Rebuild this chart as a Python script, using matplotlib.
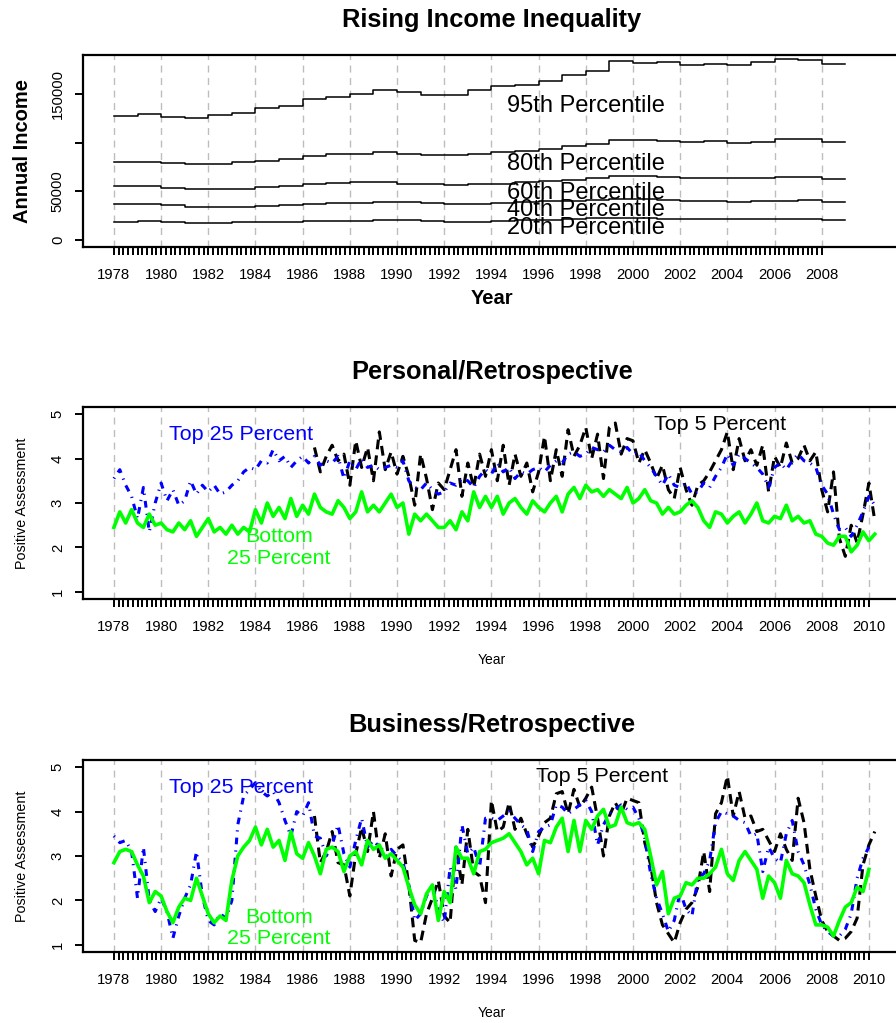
import matplotlib
matplotlib.use('Agg')
import matplotlib.pyplot as plt
import numpy as np

plt.rcParams['font.family'] = ['Liberation Sans', 'DejaVu Sans']

# ---- panel 1: household income percentiles (thousands of dollars) ----
income_years = list(range(1978, 2009))
p95 = [127.9, 130.0, 126.6, 125.6, 129.0, 131.0, 135.5, 137.9, 144.8, 147.2, 150.3,
       154.5, 152.5, 148.9, 149.3, 154.0, 158.6, 159.7, 163.4, 169.6, 174.0, 184.0,
       182.6, 183.7, 180.2, 181.0, 180.0, 183.4, 186.0, 184.9, 181.0]
p80 = [80.0, 80.7, 78.9, 78.3, 78.3, 80.0, 81.7, 83.8, 86.2, 88.0, 89.0, 90.3, 88.6,
       87.6, 87.2, 88.6, 90.3, 92.0, 94.1, 96.5, 99.3, 102.7, 102.7, 102.0, 101.3,
       102.0, 100.3, 101.3, 103.8, 104.2, 100.7]
p60 = [55.2, 55.8, 53.8, 52.7, 52.4, 52.4, 54.1, 55.8, 57.2, 58.2, 59.3, 59.6, 57.9,
       57.2, 56.9, 57.2, 57.9, 59.3, 60.7, 62.0, 64.1, 65.8, 65.8, 64.8, 64.1, 63.8,
       63.4, 64.1, 64.5, 65.2, 63.1]
p40 = [36.5, 36.5, 35.5, 34.4, 34.4, 34.4, 35.2, 35.8, 36.9, 37.6, 38.0, 39.0, 38.6,
       37.6, 36.5, 36.9, 38.0, 39.0, 39.6, 40.3, 41.4, 41.7, 41.7, 40.7, 40.0, 39.6,
       39.3, 39.6, 40.0, 40.7, 39.0]
p20 = [18.9, 19.3, 18.6, 17.9, 17.9, 18.3, 18.6, 18.9, 19.3, 19.6, 20.0, 20.7, 20.3,
       19.6, 18.9, 18.9, 19.6, 20.7, 21.0, 21.7, 22.4, 22.7, 22.7, 22.0, 21.7, 21.4,
       21.4, 21.4, 21.4, 21.7, 20.7]
percentile_labels = ['95th Percentile', '80th Percentile', '60th Percentile',
                     '40th Percentile', '20th Percentile']

# ---- panel 2: personal / retrospective (quarterly, from 1978.0) ----
personal_bottom25 = [
    2.45, 2.80, 2.55, 2.85, 2.55, 2.45, 2.75, 2.50, 2.55, 2.40, 2.35, 2.55,
    2.40, 2.60, 2.25, 2.45, 2.65, 2.35, 2.45, 2.30, 2.50, 2.30, 2.45, 2.35,
    2.85, 2.55, 3.00, 2.70, 2.90, 2.65, 3.10, 2.70, 2.95, 2.75, 3.20, 2.90,
    2.80, 2.75, 3.05, 2.90, 2.65, 2.80, 3.25, 2.80, 2.95, 2.80, 3.00, 3.20,
    2.90, 3.00, 2.30, 2.75, 2.60, 2.75, 2.60, 2.45, 2.45, 2.60, 2.40, 2.80,
    2.60, 3.25, 2.90, 3.15, 2.90, 3.15, 2.75, 3.00, 3.10, 2.90, 2.75, 3.05,
    2.90, 2.80, 3.00, 3.15, 2.80, 3.20, 3.35, 3.10, 3.40, 3.25, 3.30, 3.15,
    3.30, 3.20, 3.10, 3.35, 3.00, 3.10, 3.30, 3.05, 3.00, 2.75, 2.90, 2.75,
    2.80, 2.95, 3.05, 2.90, 2.60, 2.45, 2.80, 2.75, 2.55, 2.70, 2.80, 2.55,
    2.75, 3.00, 2.60, 2.55, 2.70, 2.65, 2.95, 2.60, 2.70, 2.55, 2.60, 2.30,
    2.25, 2.10, 2.05, 2.25, 2.25, 1.90, 2.05, 2.35, 2.15, 2.30]
personal_top25 = [
    3.55, 3.75, 3.40, 3.15, 2.65, 3.35, 2.35, 3.00, 3.45, 3.05, 3.30, 2.95,
    3.05, 3.50, 3.20, 3.40, 3.25, 3.40, 3.20, 3.25, 3.40, 3.50, 3.70, 3.80,
    3.75, 3.95, 3.90, 4.20, 3.95, 4.05, 3.80, 3.95, 4.05, 3.90, 4.05, 3.85,
    3.95, 3.90, 4.05, 3.55, 3.95, 3.75, 4.00, 3.80, 3.85, 3.75, 3.80, 3.85,
    3.80, 3.95, 3.50, 3.35, 3.30, 3.45, 3.30, 3.20, 3.25, 3.45, 3.40, 3.55,
    3.50, 3.35, 3.60, 3.75, 3.65, 3.90, 3.70, 3.80, 3.55, 3.70, 3.65, 3.75,
    3.80, 3.70, 3.85, 3.95, 3.90, 4.10, 4.15, 4.05, 4.10, 4.25, 4.20, 4.15,
    4.30, 4.20, 4.15, 4.25, 4.10, 4.15, 3.95, 3.80, 3.60, 3.40, 3.65, 3.40,
    3.35, 3.45, 3.20, 3.25, 3.45, 3.35, 3.60, 3.80, 4.10, 3.85, 4.10, 4.00,
    3.90, 3.80, 3.65, 3.35, 3.80, 3.90, 3.75, 3.95, 4.10, 3.95, 3.90, 3.80,
    3.40, 3.20, 2.75, 2.40, 2.45, 2.25, 2.50, 2.80, 3.15, 2.95]
# top 5 percent starts mid 1986
personal_top5 = [
    4.25, 3.70,
    4.05, 4.30, 3.95, 4.10, 3.40, 4.40, 3.80, 4.25, 3.50, 4.60, 3.75, 4.15,
    3.65, 4.05, 3.60, 2.95, 4.10, 3.55, 2.85, 3.45, 3.30, 3.75, 4.20, 3.15,
    3.90, 3.35, 4.10, 3.60, 4.20, 3.50, 4.30, 3.40, 4.10, 3.60, 3.90, 3.25,
    3.70, 4.50, 3.50, 4.20, 3.60, 4.65, 4.05, 4.30, 4.70, 4.00, 4.55, 3.55,
    4.70, 4.80, 4.10, 4.45, 4.40, 3.90, 4.20, 3.90, 3.55, 3.85, 3.30, 3.10,
    3.80, 3.30, 2.95, 3.40, 3.50, 3.70, 3.95, 4.20, 4.60, 3.75, 4.45, 3.95,
    4.20, 3.85, 4.30, 3.25, 4.05, 3.80, 4.35, 3.90, 4.00, 4.30, 3.95, 4.15,
    3.30, 2.80, 3.70, 2.20, 1.80, 2.50, 2.10, 2.75, 3.45, 2.60]

# ---- panel 3: business / retrospective (quarterly, from 1978.0) ----
business_bottom25 = [
    2.85, 3.10, 3.15, 3.10, 2.80, 2.55, 1.95, 2.20, 2.10, 1.75, 1.50, 1.85,
    2.05, 2.00, 2.50, 2.10, 1.70, 1.50, 1.65, 1.55, 2.45, 3.00, 3.20, 3.35,
    3.65, 3.25, 3.60, 3.20, 3.35, 2.90, 3.55, 3.05, 2.95, 3.30, 3.00, 2.60,
    3.15, 3.20, 3.10, 2.65, 3.00, 3.10, 2.80, 3.35, 3.15, 3.25, 2.95, 3.05,
    2.90, 2.75, 2.30, 1.90, 1.70, 2.15, 2.35, 1.55, 2.20, 1.95, 3.20, 2.95,
    2.95, 2.60, 3.10, 3.15, 3.30, 3.35, 3.40, 3.50, 3.30, 3.10, 2.80, 2.95,
    2.60, 3.35, 3.30, 3.65, 3.85, 3.10, 3.80, 3.10, 3.80, 3.60, 3.90, 4.05,
    3.65, 3.70, 4.10, 3.75, 3.70, 3.75, 3.60, 3.00, 2.35, 2.65, 1.70, 2.05,
    2.10, 2.40, 2.35, 2.50, 2.50, 2.60, 2.75, 3.15, 2.60, 2.45, 2.90, 3.10,
    2.90, 2.70, 2.05, 2.55, 2.40, 2.05, 2.90, 2.60, 2.55, 2.40, 1.90, 1.45,
    1.45, 1.40, 1.20, 1.55, 1.85, 1.95, 2.30, 2.20, 2.70]
business_top25 = [
    3.45, 3.30, 3.35, 3.10, 2.05, 3.20, 2.00, 1.75, 2.05, 1.75, 1.15, 1.65,
    2.05, 2.35, 3.10, 2.10, 1.55, 1.45, 1.70, 1.60, 2.00, 3.70, 4.35, 4.50,
    4.65, 4.45, 4.35, 4.45, 4.20, 3.80, 3.45, 4.00, 3.90, 4.20, 3.45, 3.40,
    3.00, 3.25, 3.70, 3.05, 2.75, 3.35, 3.85, 3.20, 3.35, 3.20, 2.95, 3.15,
    3.00, 2.85, 2.35, 1.55, 1.70, 2.10, 2.35, 1.80, 1.50, 2.75, 2.25, 3.70,
    3.05, 3.20, 2.75, 3.85, 3.85, 3.80, 3.90, 4.00, 3.85, 3.70, 3.60, 3.10,
    3.55, 3.65, 3.70, 4.15, 4.10, 3.95, 4.05, 4.15, 4.25, 4.00, 3.25, 3.70,
    3.95, 4.05, 4.15, 4.05, 4.10, 3.85, 3.40, 2.60, 2.05, 1.70, 1.30, 1.55,
    2.20, 1.80, 1.65, 2.50, 2.60, 2.90, 3.75, 4.00, 3.95, 3.90, 3.80, 3.75,
    3.45, 3.50, 2.65, 3.20, 2.95, 2.85, 3.50, 3.80, 3.10, 2.80, 2.35, 1.80,
    1.45, 1.30, 1.20, 1.20, 1.35, 1.70, 2.50, 2.95, 3.20]
business_top5 = [
    3.90, 2.85,
    3.10, 3.55, 2.85, 2.80, 2.10, 3.05, 3.65, 3.10, 4.00, 2.95, 3.50, 2.55,
    3.15, 3.25, 2.35, 1.10, 1.05, 1.70, 2.05, 2.45, 1.65, 1.50, 3.20, 2.35,
    3.60, 2.65, 2.55, 1.95, 4.25, 3.55, 3.65, 4.20, 3.60, 3.85, 3.50, 3.20,
    3.45, 3.75, 3.85, 4.40, 4.45, 3.95, 4.50, 4.10, 4.30, 4.55, 3.85, 3.00,
    3.90, 4.20, 3.95, 4.30, 4.25, 4.20, 3.30, 2.80, 1.95, 1.45, 1.25, 1.05,
    1.50, 1.80, 1.95, 2.30, 3.10, 2.20, 3.95, 4.20, 4.80, 3.90, 4.45, 3.85,
    3.90, 3.55, 3.60, 3.35, 3.10, 3.50, 3.15, 2.90, 4.30, 3.75, 2.70, 2.10,
    1.55, 1.30, 1.20, 1.10, 1.15, 1.30, 1.60, 2.80, 3.25, 3.55]

W_PX, H_PX = 896, 1023
GREEN = '#00ff00'
LEFT = 83 / W_PX
WIDTH = (905 - 83) / W_PX


def quarters(start, values):
    return start + 0.25 * np.arange(len(values))


def add_axes(fig, top_px, bottom_px):
    return fig.add_axes([LEFT, 1 - bottom_px / H_PX, WIDTH, (bottom_px - top_px) / H_PX])


def style_x(ax, last_year):
    ax.set_xlim(1976.69, 2011.53)
    for yr in range(1978, last_year + 1, 2):
        ax.axvline(yr, color='#bdbdbd', lw=1.0, dashes=(5, 4), zorder=0)
    major = np.arange(1978, last_year + 1, 2)
    ax.set_xticks(major)
    ax.set_xticklabels([str(y) for y in major], fontsize=10.7)
    ax.set_xticks(np.arange(1978, last_year + 0.01, 0.2), minor=True)
    ax.tick_params(axis='x', which='both', length=6, width=1.4, direction='out')
    ax.tick_params(axis='x', which='major', pad=9)
    for s in ax.spines.values():
        s.set_linewidth(1.6)


def survey_panel(ax, top5, top25, bottom25, top5_xy, bottom_y):
    ax.plot(quarters(1986.5, top5), top5, color='black', lw=2.2, dashes=(3.2, 2.0))
    ax.plot(quarters(1978.0, top25), top25, color='blue', lw=2.2,
            dashes=(0.4, 2.0, 2.2, 2.0))
    ax.plot(quarters(1978.0, bottom25), bottom25, color=GREEN, lw=2.6)
    ax.set_ylim(0.84, 5.16)
    ax.set_yticks([1, 2, 3, 4, 5])
    ax.set_yticklabels(['1', '2', '3', '4', '5'], rotation=90, va='center', fontsize=10.7)
    ax.tick_params(axis='y', length=6, width=1.4, pad=7)
    style_x(ax, 2010)
    ax.text(1983.4, 4.55, 'Top 25 Percent', color='blue', fontsize=15.4,
            ha='center', va='center')
    ax.text(top5_xy[0], top5_xy[1], 'Top 5 Percent', color='black', fontsize=15.4,
            ha='center', va='center')
    ax.text(1985.0, bottom_y, 'Bottom\n25 Percent', color=GREEN, fontsize=15.4,
            ha='center', va='center', linespacing=1.15)


fig = plt.figure(figsize=(W_PX / 100, H_PX / 100), dpi=100)

# panel 1
ax1 = add_axes(fig, 55, 247)
step_x = income_years + [2009]
label_y = [138, 78.5, 48.7, 30.9, 12]
for series, text, ty in zip([p95, p80, p60, p40, p20], percentile_labels, label_y):
    vals = np.array(series + [series[-1]]) * 1000
    ax1.plot(step_x, vals, color='black', lw=1.1, drawstyle='steps-post')
    ax1.text(1998, ty * 1000, text, fontsize=17, ha='center', va='center')
ax1.set_ylim(-7300, 190500)
ax1.set_yticks([0, 50000, 100000, 150000])
ax1.set_yticklabels(['0', '50000', '', '150000'], rotation=90, va='center', fontsize=10.7)
ax1.tick_params(axis='y', length=6, width=1.4, pad=7)
style_x(ax1, 2008)

# panel 2
ax2 = add_axes(fig, 407, 599)
survey_panel(ax2, personal_top5, personal_top25, personal_bottom25, (2003.7, 4.77), 2.0)

# panel 3
ax3 = add_axes(fig, 760, 952)
survey_panel(ax3, business_top5, business_top25, business_bottom25, (1998.7, 4.8), 1.38)

# titles and axis labels
title_x = 492 / W_PX
for text, y_px in [('Rising Income Inequality', 20), ('Personal/Retrospective', 372),
                   ('Business/Retrospective', 725)]:
    fig.text(title_x, 1 - y_px / H_PX, text, ha='center', va='center',
             fontsize=18.3, fontweight='bold')

fig.text(title_x, 1 - 299 / H_PX, 'Year', ha='center', va='center',
         fontsize=14.5, fontweight='bold')
fig.text(title_x, 1 - 660 / H_PX, 'Year', ha='center', va='center', fontsize=10)
fig.text(title_x, 1 - 1013 / H_PX, 'Year', ha='center', va='center', fontsize=10)

fig.text(22 / W_PX, 1 - 151 / H_PX, 'Annual Income', rotation=90, ha='center',
         va='center', fontsize=14.5, fontweight='bold')
fig.text(22 / W_PX, 1 - 503 / H_PX, 'Positive Assessment', rotation=90, ha='center',
         va='center', fontsize=10.3)
fig.text(22 / W_PX, 1 - 856 / H_PX, 'Positive Assessment', rotation=90, ha='center',
         va='center', fontsize=10.3)

fig.savefig('out.png', dpi=100)
